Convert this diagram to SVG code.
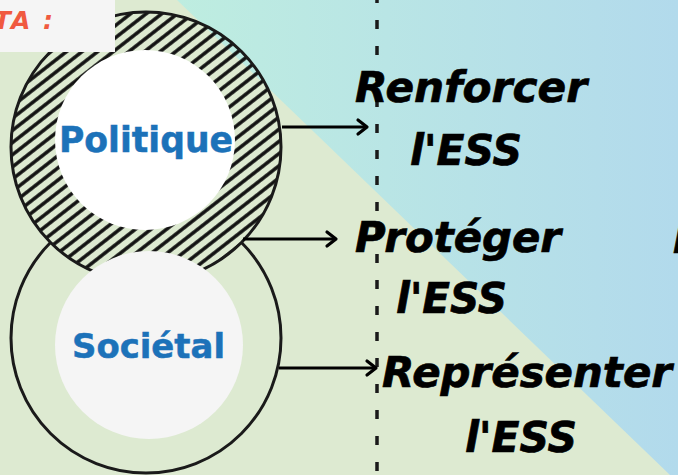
<svg xmlns="http://www.w3.org/2000/svg" width="678" height="475" viewBox="0 0 678 475">
<defs>
<linearGradient id="bgGrad" gradientUnits="userSpaceOnUse" x1="177" y1="0" x2="678" y2="0">
<stop offset="0" stop-color="#BEEDE0"/>
<stop offset="1" stop-color="#B2DAEC"/>
</linearGradient>
<pattern id="hatch" patternUnits="userSpaceOnUse" width="10" height="9.6" patternTransform="rotate(-38)">
<line x1="-1" y1="4.8" x2="11" y2="4.8" stroke="#111" stroke-width="3.5"/>
</pattern>
<marker id="arrow" markerUnits="userSpaceOnUse" markerWidth="20" markerHeight="20" viewBox="-12 -10 14 20" refX="0" refY="0" orient="auto" overflow="visible">
<path d="M-9,-7 L0,0 L-9,7" fill="none" stroke="#000" stroke-width="3.2" stroke-linecap="round" stroke-linejoin="round"/>
</marker>
<mask id="outsideTop" maskUnits="userSpaceOnUse" x="0" y="0" width="678" height="475">
<rect x="0" y="0" width="678" height="475" fill="#fff"/>
<circle cx="146" cy="147" r="135" fill="#000"/>
</mask>
<style>
.ring{fill:none;stroke:#1a1a1a;stroke-width:3}
.lbl{font-family:"DejaVu Sans",sans-serif;font-weight:bold;fill:#1C72B9;stroke:#1C72B9;stroke-width:0.5}
.act{font-family:"DejaVu Sans",sans-serif;font-weight:bold;font-style:italic;font-size:42px;fill:#000;stroke:#000;stroke-width:0.7}
.conn{stroke:#000;stroke-width:3.2;fill:none;marker-end:url(#arrow)}
</style>
</defs>

<g id="background">
<rect x="0" y="0" width="678" height="475" fill="#DDEAD1"/>
<polygon points="177,0 678,0 678,475 670,475" fill="url(#bgGrad)"/>
</g>

<g id="divider">
<line x1="377" y1="-6" x2="377" y2="480" stroke="#1a1a1a" stroke-width="3.5" stroke-dasharray="9 17"/>
</g>

<g id="societal">
<circle cx="146" cy="338" r="135" class="ring" mask="url(#outsideTop)"/>
</g>

<g id="politique">
<circle cx="146" cy="147" r="135" fill="url(#hatch)" stroke="#1a1a1a" stroke-width="3"/>
<circle cx="145" cy="140" r="90" fill="#FFFFFF"/>
<text x="59" y="152" class="lbl" font-size="35" textLength="174" lengthAdjust="spacingAndGlyphs">Politique</text>
</g>

<g id="societal-core">
<circle cx="149" cy="345" r="94" fill="#F5F5F5"/>
<text x="72" y="358" class="lbl" font-size="34" textLength="153" lengthAdjust="spacingAndGlyphs">Sociétal</text>
</g>

<g id="legend">
<rect x="0" y="0" width="115" height="52" fill="#F5F5F5"/>
<text x="55" y="29" text-anchor="end" font-family="DejaVu Sans, sans-serif" font-weight="bold" font-style="italic" font-size="25" fill="#F05A40" letter-spacing="2">TA :</text>
</g>

<g id="connectors">
<line x1="282" y1="127" x2="367" y2="127" class="conn"/>
<line x1="243" y1="239" x2="336" y2="239" class="conn"/>
<line x1="279" y1="368" x2="376" y2="368" class="conn"/>
</g>

<g id="renforcer">
<text x="355" y="102" class="act" textLength="232" lengthAdjust="spacingAndGlyphs">Renforcer</text>
<text x="410" y="165" class="act" textLength="112" lengthAdjust="spacingAndGlyphs">l'ESS</text>
</g>

<g id="proteger">
<text x="355" y="252" class="act" textLength="206" lengthAdjust="spacingAndGlyphs">Protéger</text>
<text x="396" y="313" class="act" textLength="111" lengthAdjust="spacingAndGlyphs">l'ESS</text>
<text x="673" y="253" class="act">P</text>
</g>

<g id="representer">
<text x="382" y="387" class="act" textLength="290" lengthAdjust="spacingAndGlyphs">Représenter</text>
<text x="465" y="452" class="act" textLength="112" lengthAdjust="spacingAndGlyphs">l'ESS</text>
</g>
</svg>
